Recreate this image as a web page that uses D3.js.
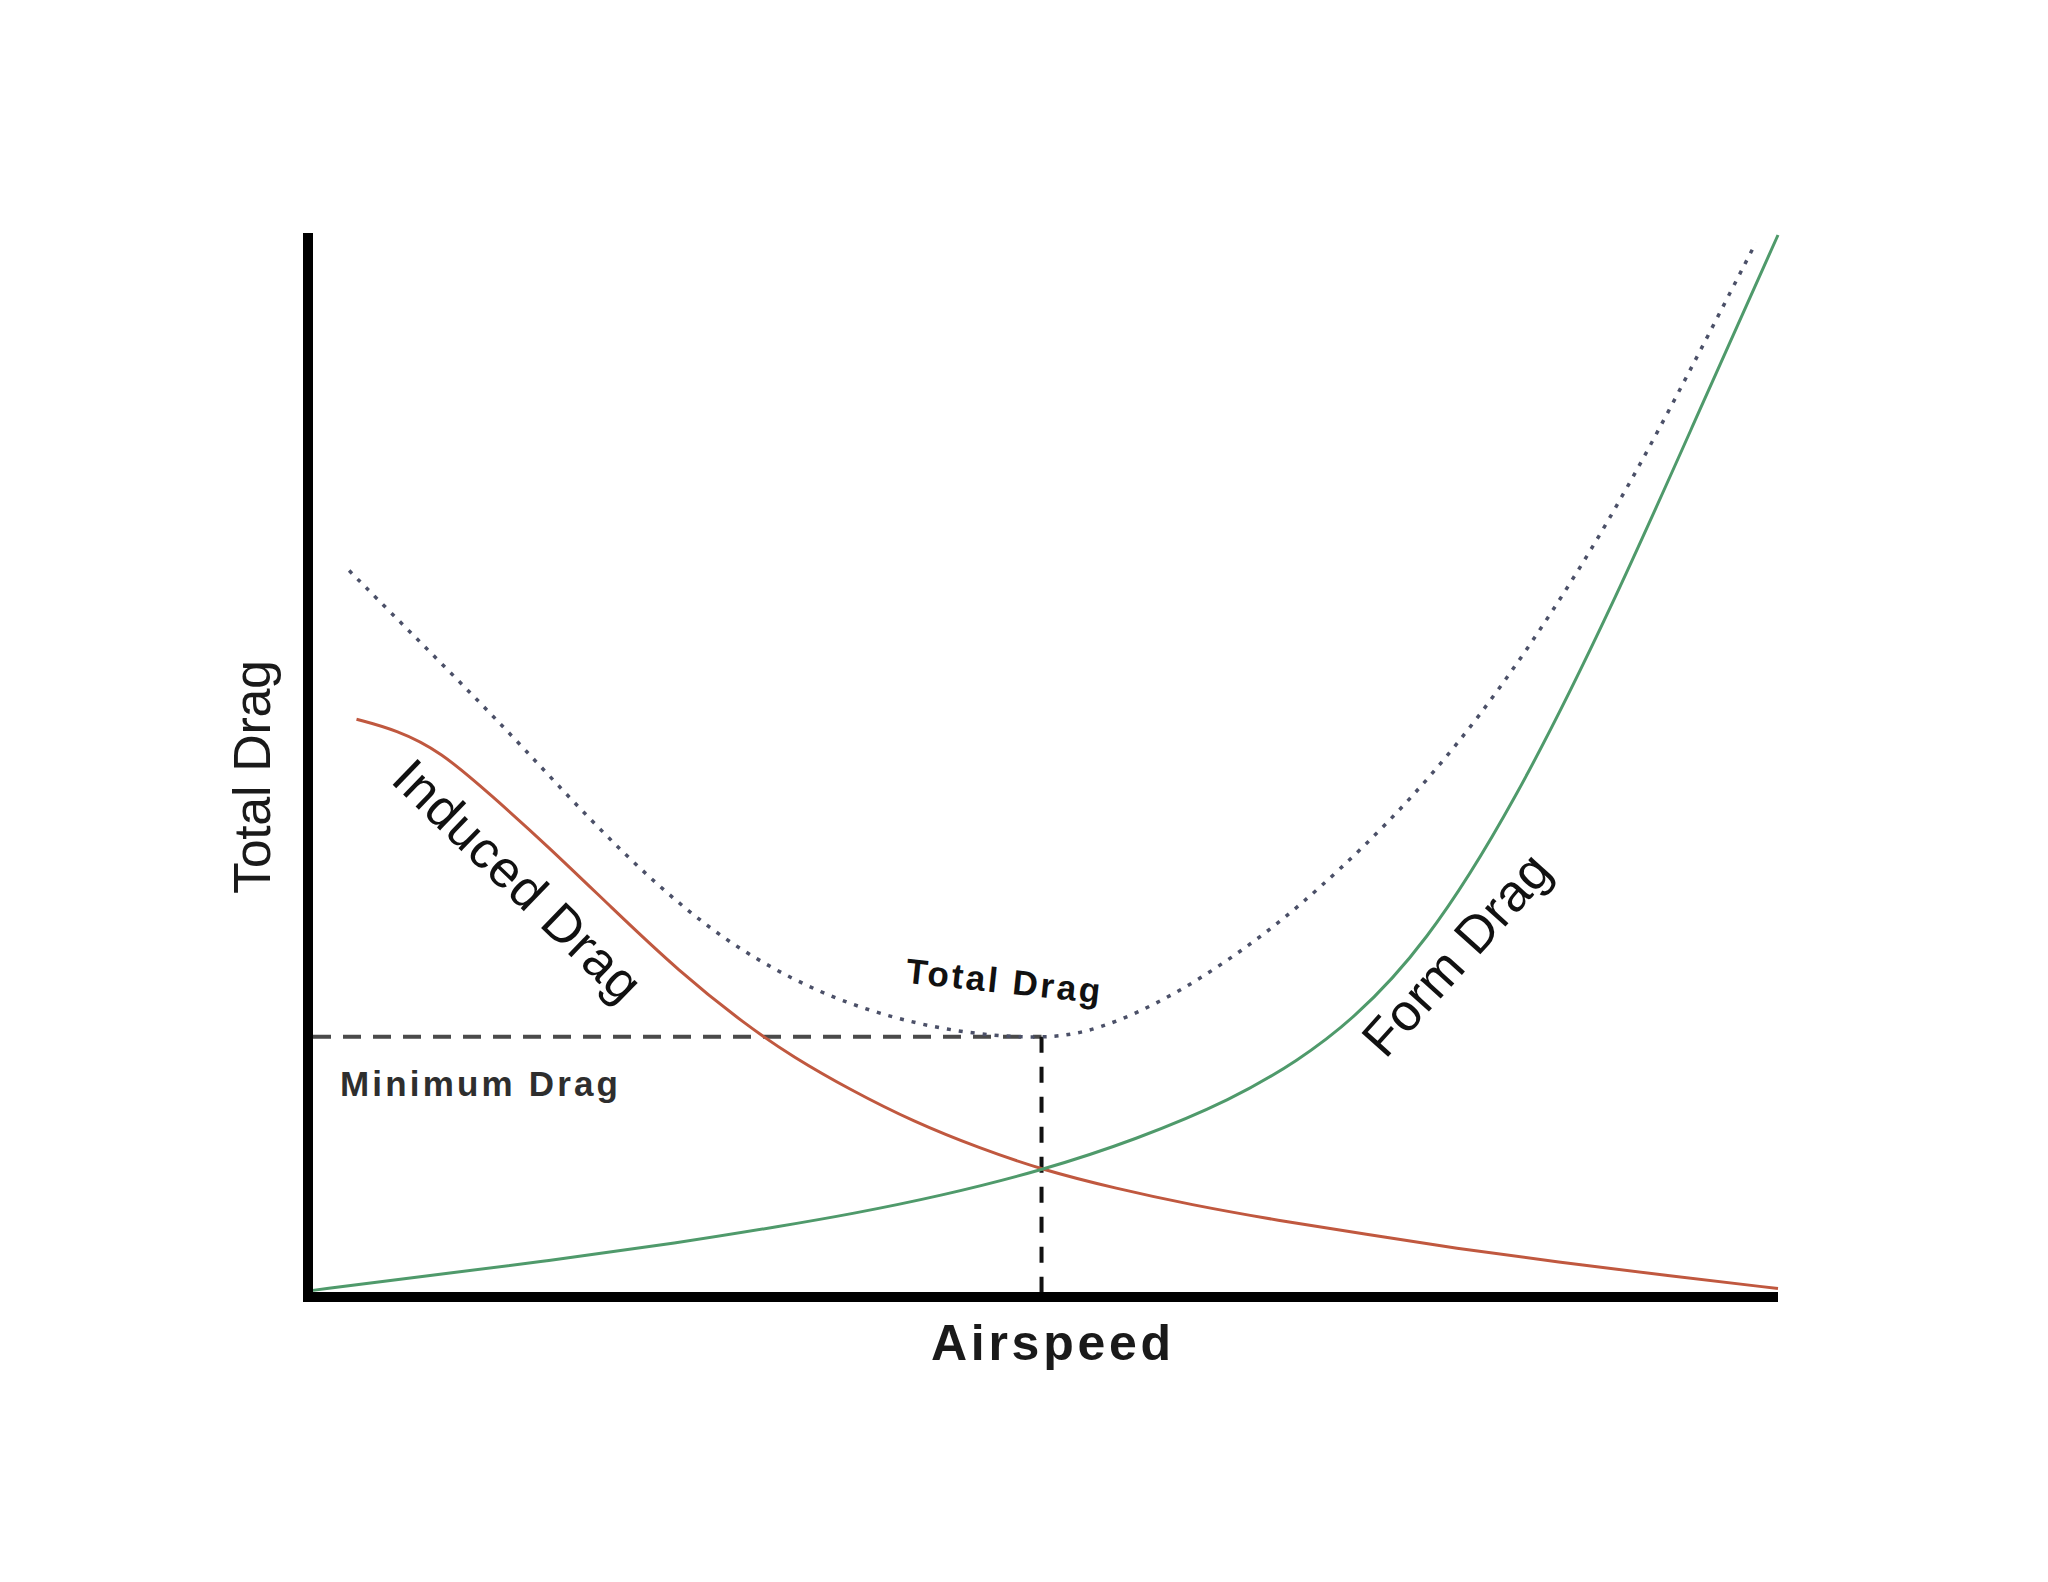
<!DOCTYPE html>
<html>
<head>
<meta charset="utf-8">
<script src="https://cdn.jsdelivr.net/npm/d3@7"></script>
<style>
  html, body { margin: 0; padding: 0; background: #fff; }
  svg { display: block; }
  text { font-family: "Liberation Sans", Arial, Helvetica, sans-serif; }
</style>
</head>
<body>
<div id="chart"></div>
<script>
// values, airspeed and drag both on a 0-100 relative scale
const inducedDrag = [
  [3.3, 54.4], [6.0, 53.4], [9.0, 51.4], [12.5, 47.2], [16.2, 42.6], [20.7, 36.6],
  [25.2, 30.7], [29.8, 25.6], [33.0, 22.6], [36.9, 19.5], [41.2, 16.5],
  [45.7, 14.0], [49.9, 12.0], [55.0, 10.2], [60.0, 8.7], [66.0, 7.2],
  [72.0, 5.9], [78.0, 4.6], [85.0, 3.3], [92.5, 2.0], [100, 0.8]
];

const formDrag = [
  [0.2, 0.6], [7.5, 1.9], [16.4, 3.4], [25.2, 5.1], [32.3, 6.7],
  [36.9, 7.8], [43.0, 9.5], [49.9, 11.9], [56.3, 14.8], [62.9, 18.6],
  [67.4, 22.3], [71.0, 26.0], [75.9, 32.9], [82.0, 46.2], [88.8, 65.2],
  [94.5, 83.0], [100, 100]
];

const totalDrag = [
  [2.8, 68.4], [6.6, 63.1], [10.7, 57.4], [14.6, 51.8], [19.2, 44.9],
  [23.7, 38.8], [28.3, 33.6], [32.9, 29.9], [37.4, 27.2], [43.4, 25.0],
  [49.9, 24.2], [53.8, 25.1], [59.0, 28.4], [64.2, 33.2], [68.5, 38.0],
  [75.0, 46.6], [81.2, 57.2], [87.9, 71.4], [93.2, 85.0], [98.5, 99.3]
];

const minimumPoint = [49.9, 24.5];

const axisTitles = ["Airspeed", "Total Drag"];

const width = 2048;
const height = 1582;

const x = d3.scaleLinear().domain([0, 100]).range([308, 1778]);
const y = d3.scaleLinear().domain([0, 100]).range([1297, 235]);

const svg = d3.select("#chart")
  .append("svg")
  .attr("width", width)
  .attr("height", height)
  .attr("viewBox", `0 0 ${width} ${height}`);

svg.append("rect")
  .attr("width", width)
  .attr("height", height)
  .attr("fill", "#fff");

const line = d3.line()
  .x((d) => x(d[0]))
  .y((d) => y(d[1]))
  .curve(d3.curveBasis);

// minimum drag guide lines
svg.append("line")
  .attr("x1", x(0) + 5)
  .attr("x2", x(minimumPoint[0]))
  .attr("y1", y(minimumPoint[1]))
  .attr("y2", y(minimumPoint[1]))
  .attr("stroke", "#4a4a4a")
  .attr("stroke-width", 4)
  .attr("stroke-dasharray", "18 12");

svg.append("line")
  .attr("x1", x(minimumPoint[0]))
  .attr("x2", x(minimumPoint[0]))
  .attr("y1", y(minimumPoint[1]))
  .attr("y2", y(0))
  .attr("stroke", "#111")
  .attr("stroke-width", 4)
  .attr("stroke-dasharray", "16 14");

// curves
svg.append("path")
  .datum(totalDrag)
  .attr("d", line)
  .attr("fill", "none")
  .attr("stroke", "#4b5068")
  .attr("stroke-width", 3.5)
  .attr("stroke-dasharray", "4 8");

svg.append("path")
  .datum(inducedDrag)
  .attr("d", line)
  .attr("fill", "none")
  .attr("stroke", "#c0583f")
  .attr("stroke-width", 3);

svg.append("path")
  .datum(formDrag)
  .attr("d", line)
  .attr("fill", "none")
  .attr("stroke", "#4f9a6b")
  .attr("stroke-width", 3);

// axes
svg.append("line")
  .attr("x1", x(0))
  .attr("x2", x(0))
  .attr("y1", y(100) - 2)
  .attr("y2", y(0) + 5)
  .attr("stroke", "#000")
  .attr("stroke-width", 10);

svg.append("line")
  .attr("x1", x(0) - 5)
  .attr("x2", x(100))
  .attr("y1", y(0))
  .attr("y2", y(0))
  .attr("stroke", "#000")
  .attr("stroke-width", 10);

// axis titles
svg.append("text")
  .attr("x", 1051)
  .attr("y", 1360)
  .attr("text-anchor", "middle")
  .attr("font-size", 50)
  .attr("font-weight", "bold")
  .attr("fill", "#1a1a1a")
  .attr("textLength", 240)
  .attr("lengthAdjust", "spacing")
  .text(axisTitles[0]);

svg.append("text")
  .attr("transform", "translate(270,777) rotate(-90)")
  .attr("text-anchor", "middle")
  .attr("font-size", 52)
  .attr("fill", "#1a1a1a")
  .attr("textLength", 234)
  .attr("lengthAdjust", "spacing")
  .text(axisTitles[1]);

// curve labels
const labels = [
  { text: "Induced Drag", cx: 516, cy: 882, angle: 44, size: 52, len: 322, weight: "normal", dy: "0.3em" },
  { text: "Form Drag", cx: 1458, cy: 956, angle: -48, size: 52, len: 252, weight: "normal", dy: "0.3em" },
  { text: "Total Drag", cx: 1002, cy: 993, angle: 6, size: 35, len: 195, weight: "bold", dy: 0 },
  { text: "Minimum Drag", cx: 479, cy: 1096, angle: 0, size: 35, len: 278, weight: "bold", dy: 0 }
];

svg.selectAll("text.label")
  .data(labels)
  .join("text")
  .attr("class", "label")
  .attr("transform", (d) => `translate(${d.cx},${d.cy}) rotate(${d.angle})`)
  .attr("text-anchor", "middle")
  .attr("dy", (d) => d.dy)
  .attr("font-size", (d) => d.size)
  .attr("font-weight", (d) => d.weight)
  .attr("fill", (d) => d.text === "Minimum Drag" ? "#2e2e2e" : "#111")
  .attr("textLength", (d) => d.len)
  .attr("lengthAdjust", "spacing")
  .text((d) => d.text);
</script>
</body>
</html>
